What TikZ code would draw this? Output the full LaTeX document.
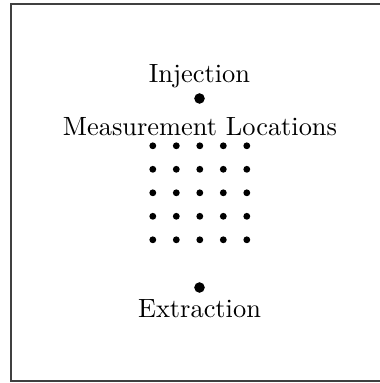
\documentclass[tikz,border=0pt]{standalone}
\usepackage{tikz}

\begin{document}
\begin{tikzpicture}[x=0.379pt, y=-0.379pt,
  dot/.style={circle, fill, inner sep=0pt, minimum size=2.6pt},
  bigdot/.style={circle, fill, inner sep=0pt, minimum size=4pt},
  lbl/.style={anchor=base, inner sep=0pt}]
  \useasboundingbox (0,0) rectangle (379,383);
  % frame, right side falls outside the page
  \draw[black!75, line width=0.45pt] (11,4) rectangle (382,381);
  \node[lbl] (injlbl) at (199.5,83) {Injection};
  \node[bigdot] (inj) at (199.5,98.5) {};
  \node[lbl] (meslbl) at (200,136) {Measurement Locations};
  \foreach \i in {1,...,5} {
    \foreach \j in {1,...,5} {
      \node[dot] (m\i\j) at ({129.3+23.5*\i}, {122.3+23.5*\j}) {};
    }
  }
  \node[bigdot] (ext) at (199.5,287.5) {};
  \node[lbl] (extlbl) at (199.5,317) {Extraction};
\end{tikzpicture}
\end{document}
